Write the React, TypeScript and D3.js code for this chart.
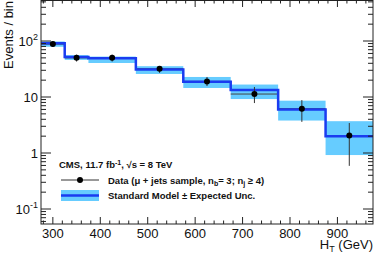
import React from "react";
import * as d3 from "d3";

// H_T bins (GeV)
const binLow = [275, 325, 375, 475, 575, 675, 775, 875];
const binHigh = [325, 375, 475, 575, 675, 775, 875, 975];
const binCenter = [300, 350, 425, 525, 625, 725, 825, 925];

// standard model expectation and its uncertainty band
const smExpected = [91, 52, 49, 31, 18.7, 13.3, 6.0, 2.0];
const smLow = [79, 46, 40.5, 25.8, 14.5, 9.2, 3.8, 0.92];
const smHigh = [98, 56, 52.7, 35.5, 22.8, 16.7, 8.6, 3.7];

// data points with error bars
const dataVals = [88, 50, 50, 32, 19, 11.3, 6.2, 2.05];
const dataLow = [79, 43, 43, 27, 15.7, 7.8, 3.6, 0.59];
const dataHigh = [97, 57, 57, 35.5, 22.8, 15.1, 8.8, 3.43];

const xMajor = [300, 400, 500, 600, 700, 800, 900];
const yMajor = [0.1, 1, 10, 100];

const W = 374;
const H = 254;
const left = 41;
const right = 373;
const top = 0;
const bottom = 224;

const font = "'Liberation Sans', Arial, Helvetica, sans-serif";
const bandColor = "#66ccff";
const lineColor = "#1a3cf0";

export default function App() {
  const x = d3.scaleLinear().domain([275, 975]).range([left, right]);
  const y = d3.scaleLog().domain([0.054, 540]).range([bottom, top]);

  const xMinor = d3.range(280, 975, 20).filter((v) => v % 100 !== 0);
  const yMinor: number[] = [];
  [0.01, 0.1, 1, 10, 100].forEach((dec) => {
    for (let k = 2; k <= 9; k++) {
      const v = dec * k;
      if (v > 0.054 && v < 540) yMinor.push(v);
    }
  });

  // histogram step line
  const stepPts: [number, number][] = [];
  binLow.forEach((lo, i) => {
    stepPts.push([x(lo), y(smExpected[i])]);
    stepPts.push([x(binHigh[i]), y(smExpected[i])]);
  });
  const stepLine = d3.line()(stepPts) || "";

  const yLabel = (v: number) => {
    if (v === 100) return <>10<tspan dy={-6} fontSize={9}>2</tspan></>;
    if (v === 10) return <>10</>;
    if (v === 1) return <>1</>;
    return <>10<tspan dy={-6} fontSize={9}>-1</tspan></>;
  };

  const legX = 61;
  const legX2 = 99;

  return (
    <svg
      width={W}
      height={H}
      style={{ position: "absolute", left: 0, top: 0, background: "#fff" }}
      fontFamily={font}
    >
      {/* uncertainty band */}
      {binLow.map((lo, i) => (
        <rect
          key={"b" + i}
          x={x(lo)}
          y={y(smHigh[i])}
          width={x(binHigh[i]) - x(lo)}
          height={y(smLow[i]) - y(smHigh[i])}
          fill={bandColor}
        />
      ))}
      {/* data horizontal bars */}
      {binLow.map((lo, i) => (
        <line
          key={"dh" + i}
          x1={x(lo)}
          x2={x(binHigh[i])}
          y1={y(dataVals[i])}
          y2={y(dataVals[i])}
          stroke="#444"
          strokeWidth={1}
        />
      ))}
      <path d={stepLine} fill="none" stroke={lineColor} strokeWidth={2.5} />
      {/* data points */}
      {binCenter.map((c, i) => (
        <g key={"d" + i}>
          <line
            x1={x(c)}
            x2={x(c)}
            y1={y(dataHigh[i])}
            y2={y(dataLow[i])}
            stroke="#333"
            strokeWidth={1}
          />
          <circle cx={x(c)} cy={y(dataVals[i])} r={3} fill="#000" />
        </g>
      ))}

      {/* frame */}
      <rect
        x={left}
        y={top + 0.5}
        width={right - left}
        height={bottom - top - 0.5}
        fill="none"
        stroke="#222"
        strokeWidth={1}
      />

      {/* x ticks */}
      {xMajor.map((v) => (
        <g key={"xm" + v}>
          <line x1={x(v)} x2={x(v)} y1={bottom} y2={bottom - 7} stroke="#222" />
          <line x1={x(v)} x2={x(v)} y1={top} y2={top + 7} stroke="#222" />
          <text x={x(v)} y={238} fontSize={13} textAnchor="middle" fill="#111">
            {v}
          </text>
        </g>
      ))}
      {xMinor.map((v) => (
        <g key={"xn" + v}>
          <line x1={x(v)} x2={x(v)} y1={bottom} y2={bottom - 3.5} stroke="#222" />
          <line x1={x(v)} x2={x(v)} y1={top} y2={top + 3.5} stroke="#222" />
        </g>
      ))}

      {/* y ticks */}
      {yMajor.map((v) => (
        <g key={"ym" + v}>
          <line x1={left} x2={left + 10} y1={y(v)} y2={y(v)} stroke="#222" />
          <line x1={right} x2={right - 10} y1={y(v)} y2={y(v)} stroke="#222" />
          <text
            x={38}
            y={y(v) + 5}
            fontSize={13}
            textAnchor="end"
            fill="#111"
          >
            {yLabel(v)}
          </text>
        </g>
      ))}
      {yMinor.map((v) => (
        <g key={"yn" + v}>
          <line x1={left} x2={left + 5} y1={y(v)} y2={y(v)} stroke="#222" />
          <line x1={right} x2={right - 5} y1={y(v)} y2={y(v)} stroke="#222" />
        </g>
      ))}

      {/* axis titles */}
      <text
        transform="translate(13,1) rotate(-90)"
        fontSize={13}
        textAnchor="end"
        fill="#111"
      >
        Events / bin
      </text>
      <text x={373} y={249} fontSize={13} textAnchor="end" fill="#111">
        H<tspan dy={3} fontSize={9}>T</tspan>
        <tspan dy={-3}> (GeV)</tspan>
      </text>

      {/* legend */}
      <g fontSize={9.5} fontWeight="bold" fill="#111">
        <text x={59} y={168}>
          CMS, 11.7 fb<tspan dy={-3} fontSize={7}>-1</tspan>
          <tspan dy={3}>, √s = 8 TeV</tspan>
        </text>
        <line x1={legX} x2={legX2} y1={180} y2={180} stroke="#333" />
        <circle cx={(legX + legX2) / 2} cy={180} r={3} fill="#000" />
        <text x={108} y={183.5}>
          Data (μ + jets sample, n<tspan dy={2} fontSize={7}>b</tspan>
          <tspan dy={-2}>= 3; n</tspan>
          <tspan dy={2} fontSize={7}>j</tspan>
          <tspan dy={-2}> ≥ 4)</tspan>
        </text>
        <rect x={legX} y={190} width={legX2 - legX} height={11} fill={bandColor} />
        <line x1={legX} x2={legX2} y1={195.5} y2={195.5} stroke={lineColor} strokeWidth={2.5} />
        <text x={108} y={199}>
          Standard Model ± Expected Unc.
        </text>
      </g>
    </svg>
  );
}
